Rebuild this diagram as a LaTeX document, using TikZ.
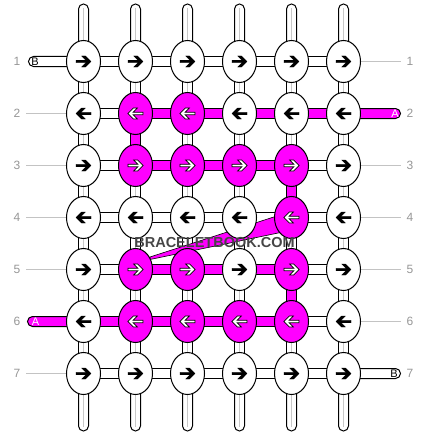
\documentclass[tikz,border=0pt]{standalone}
\usepackage{fontspec}
\setmainfont{Liberation Sans}
\usetikzlibrary{calc,positioning,backgrounds,shapes.geometric}
\definecolor{bbpink}{RGB}{255,0,255}
\definecolor{labgray}{RGB}{150,150,150}
\definecolor{linegray}{RGB}{195,195,195}
\definecolor{strandgray}{RGB}{200,200,200}
\definecolor{wmgray}{RGB}{70,70,70}
\tikzset{knot/.style={ellipse,draw,line width=1pt,minimum width=34pt,minimum height=42pt,inner sep=0pt},
thread/.style={draw=black,fill=white,line width=1pt},
rowlab/.style={text=labgray,font=\fontsize{12}{12}\selectfont,inner sep=0pt,inner xsep=5.5pt},
rowline/.style={draw=linegray,line width=1pt},
endlab/.style={font=\fontsize{11}{11}\selectfont,inner sep=0pt},
wmark/.style={font=\fontsize{14.5}{14.5}\selectfont\bfseries,text=wmgray,inner sep=0pt},
%arrow drawn inside a knot
pics/knotarr/.style={code={\draw[pic actions] (-7.5,1.25) -- (2.39,1.25) -- (-1.86,5.5) -- (2.1,5.5) -- (7.6,0) -- (2.1,-5.5) -- (-1.86,-5.5) -- (2.39,-1.25) -- (-7.5,-1.25) -- cycle;}}}

\begin{document}
\begin{tikzpicture}[x=1pt,y=-1pt]
\useasboundingbox (0,0) rectangle (428,436);

%KNOTS

 \foreach \j/\rot/\row in {1/0/{0,0,0,0,0,0},2/180/{0,1,1,0,0,0},3/0/{0,1,1,1,1,0},4/180/{0,0,0,0,1,0},5/0/{0,1,1,0,1,0},6/180/{0,1,1,1,1,0},7/0/{0,0,0,0,0,0}}
 \foreach \v [count=\i] in \row {
  \ifnum\v=1\relax \def\kc{bbpink}\def\ac{white}\def\aw{0.6pt}\else \def\kc{white}\def\ac{black}\def\aw{0.2pt}\fi
  \node[knot,fill=\kc] (k\i-\j) at ({83.5+52*(\i-1)},{61.5+52*(\j-1)}) {};
  \pic[fill=\ac,draw=black,line width=\aw,rotate=\rot] at (k\i-\j) {knotarr};
 }

%THREADS behind the knots

\begin{scope}[on background layer]
 \foreach \j in {1,...,7} {
  \node[rowlab] (labl\j) at ($(k1-\j)+(-66.5,0)$) {\j};
  \node[rowlab] (labr\j) at ($(k6-\j)+(66.5,0)$) {\j};
 }
 \foreach \j in {2,3,4,5,7} \draw[rowline] (labl\j.east) -- (k1-\j);
 \foreach \j in {1,3,4,5,6} \draw[rowline] (k6-\j) -- (labr\j.west);

 \foreach \i in {1,...,6} {
  \path (k\i-1) ++(0,-57.5) coordinate (t\i);
  \path (k\i-7) ++(0,57.5) coordinate (b\i);
  \draw[thread,rounded corners=5pt] ($(t\i)+(-5,0)$) rectangle ($(k\i-1)+(5,0)$);
  \draw[thread,rounded corners=5pt] ($(k\i-7)+(-5,0)$) rectangle ($(b\i)+(5,0)$);
  \draw[strandgray] ($(t\i)+(0,4.5)$) -- (k\i-1);
  \draw[strandgray] (k\i-7) -- ($(b\i)+(0,-4.5)$);
 }

 %vertical threads between rows
 \foreach \i in {1,...,6}
 \foreach \ja/\jb in {1/2,2/3,3/4,4/5,5/6,6/7} {
  \draw[thread] ($(k\i-\ja)+(-5,0)$) rectangle ($(k\i-\jb)+(5,0)$);
  \draw[strandgray] (k\i-\ja) -- (k\i-\jb);
 }
 \foreach \i/\ja/\jb in {2/2/3,5/3/4,5/5/6}
  \draw[thread,fill=bbpink] ($(k\i-\ja)+(-5,0)$) rectangle ($(k\i-\jb)+(5,0)$);

 %horizontal threads between knots
 \foreach \j in {1,...,7}
 \foreach \ia/\ib in {1/2,2/3,3/4,4/5,5/6}
  \draw[thread] ($(k\ia-\j)+(0,-5)$) rectangle ($(k\ib-\j)+(0,5)$);
 \foreach \ia/\ib/\j in {2/3/2,3/4/2,4/5/2,5/6/2,2/3/3,3/4/3,4/5/3,2/3/5,3/4/5,4/5/5,1/2/6,2/3/6,3/4/6,4/5/6}
  \draw[thread,fill=bbpink] ($(k\ia-\j)+(0,-5)$) rectangle ($(k\ib-\j)+(0,5)$);

%Thread ends A and B

 \path (k1-1) ++(-55,0) coordinate (endB1);
 \draw[thread,rounded corners=5pt] ($(endB1)+(0,-5)$) rectangle ($(k1-1)+(0,5)$);
 \node[endlab] (labB1) at ($(endB1)+(6.5,0)$) {B};

 \path (k6-2) ++(57,0) coordinate (endA1);
 \draw[thread,fill=bbpink,rounded corners=5pt] ($(k6-2)+(0,-5)$) rectangle ($(endA1)+(0,5)$);
 \node[endlab,text=white] (labA1) at ($(endA1)+(-5.5,0)$) {A};

 \path (k1-6) ++(-56,0) coordinate (endA2);
 \draw[thread,fill=bbpink,rounded corners=5pt] ($(endA2)+(0,-5)$) rectangle ($(k1-6)+(0,5)$);
 \node[endlab,text=white] (labA2) at ($(endA2)+(8,0)$) {A};

 \path (k6-7) ++(57,0) coordinate (endB2);
 \draw[thread,rounded corners=5pt] ($(k6-7)+(0,-5)$) rectangle ($(endB2)+(0,5)$);
 \node[endlab] (labB2) at ($(endB2)+(-6.5,0)$) {B};

 \draw[fill=bbpink,line width=0.6pt] (150,257) -- (283,214) -- (283,232) -- (150,259.5) -- cycle;
\end{scope}

%Watermark

 \node[wmark] (wm) at (214.5,242.5) {BRACELETBOOK.COM};

\end{tikzpicture}
\end{document}
